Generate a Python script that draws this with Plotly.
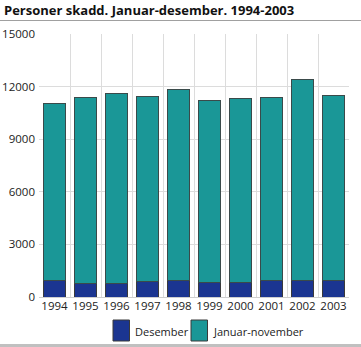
import plotly.graph_objects as go

years = [1994, 1995, 1996, 1997, 1998, 1999, 2000, 2001, 2002, 2003]
desember = [950, 780, 760, 890, 950, 800, 820, 930, 960, 950]
total = [11010, 11370, 11610, 11460, 11820, 11220, 11330, 11380, 12420, 11500]
jan_nov = [t - d for t, d in zip(total, desember)]
y_ticks = [0, 3000, 6000, 9000, 12000, 15000]
series_names = ["Desember", "Januar-november"]
series_colors = ["#1b3591", "#1a9797"]

W, H = 361, 347
ml, mr, mt, mb = 39, 12, 34, 50
pw, ph = W - ml - mr, H - mt - mb

fig = go.Figure()
fig.add_trace(go.Bar(x=years, y=desember, name=series_names[0],
                     marker=dict(color=series_colors[0], line=dict(color="#3a3a3a", width=1)),
                     width=0.7))
fig.add_trace(go.Bar(x=years, y=jan_nov, name=series_names[1],
                     marker=dict(color=series_colors[1], line=dict(color="#3a4a4a", width=1)),
                     width=0.7))

def px_x(p):
    return (p - ml) / pw

def px_y(p):
    return (H - mb - p) / ph

shapes = [
    dict(type="line", xref="paper", yref="paper", x0=px_x(0), x1=px_x(W), y0=px_y(20.5), y1=px_y(20.5),
         line=dict(color="#a0a0a0", width=1)),
    dict(type="line", xref="paper", yref="paper", x0=px_x(0), x1=px_x(W), y0=px_y(345.5), y1=px_y(345.5),
         line=dict(color="#c0c0c0", width=3)),
]
annotations = []
# custom legend
legend_items = [(113, 133), (191, 211)]
for (sx, tx), name, col in zip(legend_items, series_names, series_colors):
    shapes.append(dict(type="rect", xref="paper", yref="paper",
                       x0=px_x(sx), x1=px_x(sx + 16.5), y0=px_y(320), y1=px_y(341),
                       fillcolor=col, line=dict(color="#3a3a3a", width=1)))
    annotations.append(dict(text=name, xref="paper", yref="paper", x=px_x(tx), y=px_y(331.5),
                            xanchor="left", yanchor="middle", showarrow=False,
                            font=dict(size=11, color="#222222")))

fig.update_layout(
    width=W, height=H,
    margin=dict(l=ml, r=mr, t=mt, b=mb, pad=0, autoexpand=False),
    barmode="stack",
    plot_bgcolor="white", paper_bgcolor="white",
    font=dict(family="Open Sans", size=11, color="#222222"),
    title=dict(text="<b>Personer skadd. Januar-desember. 1994-2003</b>",
               x=4 / W, xanchor="left", xref="container",
               y=1 - 10 / H, yanchor="middle", yref="container",
               font=dict(family="Open Sans", size=13, color="#111111")),
    xaxis=dict(range=[1993.5, 2003.5], tickvals=years, ticktext=[str(y) for y in years],
               showgrid=False, zeroline=False, showline=False, ticks="", automargin=False,
               minor=dict(tick0=1993.5, dtick=1, showgrid=True, gridcolor="#dcdcdc", gridwidth=1),
               tickfont=dict(size=11.5)),
    yaxis=dict(range=[0, 15000], tickvals=y_ticks, ticktext=[str(v) for v in y_ticks],
               showgrid=True, gridcolor="#dcdcdc", gridwidth=1, automargin=False,
               zeroline=True, zerolinecolor="#cfcfcf", zerolinewidth=1, showline=False, ticks="",
               tickfont=dict(size=11.5), ticklabelstandoff=3),
    shapes=shapes,
    annotations=annotations,
    showlegend=False,
)

fig.write_html("out.html")
